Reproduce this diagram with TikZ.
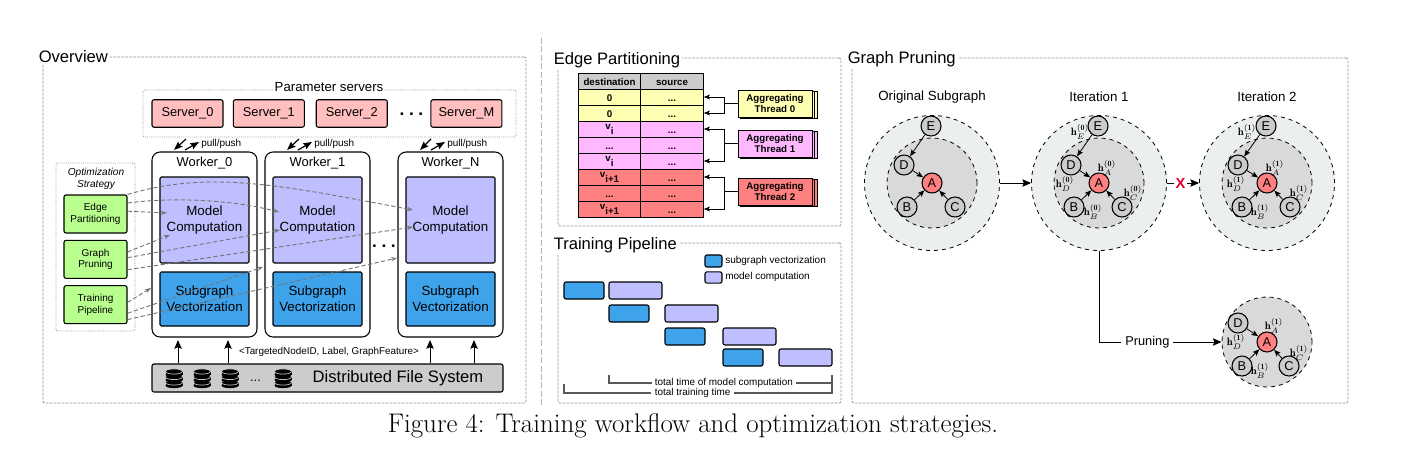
\documentclass[tikz,border=0pt]{standalone}
\usepackage{fontspec}
\setsansfont{Liberation Sans}
\renewcommand{\familydefault}{\sfdefault}
\usepackage{tikz}
\usetikzlibrary{positioning,shadows,arrows.meta}

\definecolor{serverpink}{HTML}{FFBFBF}
\definecolor{modelpurple}{HTML}{BFBFFF}
\definecolor{vectorblue}{HTML}{3FA3EC}
\definecolor{strategygreen}{HTML}{B8FF8E}
\definecolor{fsgray}{HTML}{CCCCCC}
\definecolor{threadyellow}{HTML}{FFFFB3}
\definecolor{threadpink}{HTML}{FFB8FF}
\definecolor{threadred}{HTML}{FF8080}
\definecolor{outergray}{HTML}{ECEFF0}
\definecolor{innergray}{HTML}{D9D9D9}
\definecolor{pruneread}{HTML}{E6002D}
\definecolor{framegray}{HTML}{909090}
\definecolor{dividergray}{HTML}{B4B4B4}
\definecolor{strategygray}{HTML}{767676}

\tikzset{
  paneframe/.style={draw=framegray, dash pattern=on 2pt off 1pt, line width=.6pt, rounded corners=1.5pt, inner sep=0pt},
  panetitle/.style={fill=white, anchor=base west, inner sep=1.5pt, font=\fontsize{12.45}{14}\selectfont},
  dotframe/.style={draw=framegray, densely dotted, line width=.6pt, rounded corners=1.5pt, inner sep=0pt},
  serverbox/.style={draw, fill=serverpink, line width=.8pt, rounded corners=1.5pt, minimum width=53.25pt, minimum height=20.6pt, inner sep=0pt, node distance=61pt, font=\fontsize{9.6}{11}\selectfont},
  workerbox/.style={draw, line width=.8pt, rounded corners=6pt, minimum width=78.75pt, minimum height=138.75pt, inner sep=0pt, node distance=84.75pt},
  workername/.style={inner sep=0pt, node distance=84.75pt, font=\fontsize{9.7}{11}\selectfont},
  modelbox/.style={draw, fill=modelpurple, line width=.8pt, rounded corners=1pt, minimum width=66.75pt, minimum height=64.5pt, inner sep=0pt, align=center, font=\fontsize{10}{12}\selectfont},
  vectorbox/.style={draw, fill=vectorblue, line width=.8pt, rounded corners=1pt, minimum width=66.75pt, minimum height=40.5pt, inner sep=0pt, align=center, font=\fontsize{10}{12}\selectfont},
  strategybox/.style={draw, fill=strategygreen, line width=.8pt, rounded corners=1.5pt, minimum width=47.25pt, minimum height=28.5pt, inner sep=0pt, align=center, node distance=34pt, font=\fontsize{7.5}{8.8}\selectfont},
  smalltext/.style={inner sep=0pt, font=\fontsize{7.5}{8.8}\selectfont},
  rowdots/.style={inner sep=0pt, font=\bfseries\fontsize{13}{14}\selectfont},
  strategyarrow/.style={-{Stealth[length=4.5pt,width=3.2pt]}, strategygray, dash pattern=on 3.2pt off 1.8pt, line width=.7pt},
  pullarrow/.style={-{Stealth[length=6.5pt,width=5pt,inset=1pt]}, line width=.9pt},
  tablecell/.style={draw, line width=.7pt, minimum width=47pt, minimum height=12pt, inner sep=0pt, text height=7pt, text depth=1pt, node distance=12pt, font=\bfseries\fontsize{7.3}{8}\selectfont},
  threadbox/.style={draw, line width=.6pt, minimum width=55.5pt, minimum height=20.25pt, inner sep=0pt, align=center, double copy shadow={shadow xshift=1.9pt, shadow yshift=-.7pt}, font=\bfseries\fontsize{7.3}{8.8}\selectfont},
  barblue/.style={draw, fill=vectorblue, line width=.8pt, rounded corners=1.5pt, minimum width=30pt, minimum height=12.75pt, inner sep=0pt},
  barpurple/.style={draw, fill=modelpurple, line width=.8pt, rounded corners=1.5pt, minimum width=39.75pt, minimum height=12.75pt, inner sep=0pt},
  spanline/.style={draw=black!65, line width=.9pt},
  outercircle/.style={circle, draw, dashed, fill=outergray, line width=.6pt, minimum size=101.25pt, inner sep=0pt},
  innercircle/.style={circle, draw, dashed, fill=innergray, line width=.6pt, minimum size=67.5pt, inner sep=0pt},
  vertex/.style={circle, draw, fill=fsgray, line width=.8pt, minimum size=15pt, inner sep=0pt, font=\fontsize{9.6}{11}\selectfont},
  rootvertex/.style={vertex, fill=threadred},
  hlabel/.style={inner sep=0pt, font=\fontsize{8}{9}\selectfont},
  subtitle/.style={inner sep=0pt, font=\fontsize{10}{12}\selectfont},
  flowarrow/.style={-{Stealth[length=6.5pt,width=5.5pt,inset=1pt]}, line width=.75pt},
  edgearrow/.style={-{Stealth[length=5pt,width=4pt,inset=1pt]}, line width=.6pt},
  threadarrow/.style={-{Stealth[length=4.5pt,width=3.5pt,inset=.8pt]}, line width=.75pt}
}

\newcommand{\dblayer}[2]{%
  \fill[black] (#1-8.5,#2) rectangle (#1+8.5,#2-3);
  \fill[black] (#1,#2) ellipse [x radius=8.5, y radius=2.6];
  \filldraw[fill=black, draw=fsgray, line width=.5pt] (#1,#2-3) ellipse [x radius=8.5, y radius=2.6];
}
\newcommand{\dbicon}[1]{\dblayer{#1}{385.5}\dblayer{#1}{380}\dblayer{#1}{374.5}}

\begin{document}
\begin{tikzpicture}[x=.75pt,y=-.75pt,>=stealth]
  \useasboundingbox (0,0) rectangle (1403,450);

  % Overview
  \node (overviewFrame) [paneframe, minimum width=362.25pt, minimum height=259.5pt] at (284.5,230) {};
  \node (overviewTitle) [panetitle] at (36.5,62.5) {Overview};
  \node (paramFrame) [dotframe, minimum width=279.75pt, minimum height=35.25pt] at (329.5,113.5) {};
  \node (paramTitle) [fill=white, inner sep=1.5pt, font=\fontsize{9.9}{11}\selectfont] at (329,87) {Parameter servers};

  \node (server0) [serverbox] at (187.5,113.5) {Server\_0};
  \node (server1) [serverbox, right of=server0] {Server\_1};
  \node (server2) [serverbox, right of=server1, xshift=1.2pt] {Server\_2};
  \node (serverDots) [rowdots] at (411.5,114) {.\kern3.4pt.\kern3.4pt.};
  \node (serverM) [serverbox, right of=server2, xshift=25pt] {Server\_M};

  \node (worker0) [workerbox] at (204.5,244.5) {};
  \node (worker1) [workerbox, right of=worker0] {};
  \node (workerN) [workerbox, right of=worker1, xshift=15pt] {};
  \node (workerName0) [workername] at (204.5,163) {Worker\_0};
  \node (workerName1) [workername, right of=workerName0] {Worker\_1};
  \node (workerNameN) [workername, right of=workerName1, xshift=15pt] {Worker\_N};
  \node (model0) [modelbox] at (204.5,220) {Model\\Computation};
  \node (model1) [modelbox] at (317.5,220) {Model\\Computation};
  \node (modelN) [modelbox] at (450.5,220) {Model\\Computation};
  \node (vector0) [vectorbox] at (204.5,299) {Subgraph\\Vectorization};
  \node (vector1) [vectorbox] at (317.5,299) {Subgraph\\Vectorization};
  \node (vectorN) [vectorbox] at (450.5,299) {Subgraph\\Vectorization};
  \node (workerDots) [rowdots] at (384,246) {.\kern3.4pt.\kern3.4pt.};

  % pull/push arrows
  \coordinate (pullTop0) at (186,139); \coordinate (pullEnd0) at (174,150);
  \coordinate (pushEnd0) at (185,150); \coordinate (pushTop0) at (199,142);
  \coordinate (pullTop1) at (299,139); \coordinate (pullEnd1) at (287,150);
  \coordinate (pushEnd1) at (298,150); \coordinate (pushTop1) at (312,142);
  \coordinate (pullTopN) at (431,139); \coordinate (pullEndN) at (420,150);
  \coordinate (pushEndN) at (431,150); \coordinate (pushTopN) at (445,142);
  \draw[pullarrow] (pullTop0) -- (pullEnd0);
  \draw[pullarrow] (pushEnd0) -- (pushTop0);
  \draw[pullarrow] (pullTop1) -- (pullEnd1);
  \draw[pullarrow] (pushEnd1) -- (pushTop1);
  \draw[pullarrow] (pullTopN) -- (pullEndN);
  \draw[pullarrow] (pushEndN) -- (pushTopN);
  \node (pushText0) [smalltext, anchor=west] at (201,144) {pull/push};
  \node (pushText1) [smalltext, anchor=west] at (314,144) {pull/push};
  \node (pushTextN) [smalltext, anchor=west] at (447,144) {pull/push};

  % optimization strategy
  \node (strategyFrame) [dotframe, minimum width=59.25pt, minimum height=126pt] at (95.5,247) {};
  \node (strategyTitle) [smalltext, align=center, font=\itshape\fontsize{7.6}{9}\selectfont] at (96,178.5) {Optimization\\Strategy};
  \node (edgeBox) [strategybox] at (95.5,214) {Edge\\Partitioning};
  \node (pruneBox) [strategybox, below of=edgeBox] {Graph\\Pruning};
  \node (trainBox) [strategybox, below of=pruneBox] {Training\\Pipeline};

  \coordinate (edgeEnd0) at (167,213);
  \coordinate (edgeEnd1) at (279,212);
  \coordinate (edgeEndN) at (413,210);
  \coordinate (pruneEnd0) at (170,235);
  \coordinate (pruneEnd1) at (280,230);
  \coordinate (pruneEndN) at (413,227);
  \coordinate (trainEnd0) at (151,288);
  \coordinate (trainEnd1) at (263,267);
  \coordinate (trainEndN) at (397,258);
  \draw[strategyarrow] (edgeBox.5) -- (edgeEnd0);
  \draw[strategyarrow] (edgeBox.19) .. controls (165,198) and (225,198) .. (edgeEnd1);
  \draw[strategyarrow] (edgeBox.north east) .. controls (210,170) and (280,185) .. (edgeEndN);
  \draw[strategyarrow] (pruneBox.13) -- (pruneEnd0);
  \draw[strategyarrow] (pruneBox.3) -- (pruneEnd1);
  \draw[strategyarrow] (pruneBox.-18) -- (pruneEndN);
  \draw[strategyarrow] (trainBox.4) -- (trainEnd0);
  \draw[strategyarrow] (trainBox.-15) -- (trainEnd1);
  \draw[strategyarrow] (trainBox.-25) -- (trainEndN);

  % file system
  \node (fileSystem) [draw, fill=fsgray, line width=.8pt, rounded corners=1.5pt, minimum width=263.25pt, minimum height=21pt, inner sep=0pt] at (327.5,378) {};
  \node (fileSystemText) [inner sep=0pt, font=\fontsize{12.45}{14}\selectfont] at (398,378) {Distributed File System};
  \node (fileDots) [inner sep=0pt, font=\fontsize{9.6}{11}\selectfont] at (255.5,381) {...};
  \dbicon{174}
  \dbicon{202}
  \dbicon{230}
  \dbicon{283}
  \coordinate (readTip0) at (178,340);
  \coordinate (readTip1) at (228,340);
  \coordinate (readTip2) at (430,340);
  \coordinate (readTip3) at (474,340);
  \draw[flowarrow] (readTip0 |- fileSystem.north) -- (readTip0);
  \draw[flowarrow] (readTip1 |- fileSystem.north) -- (readTip1);
  \draw[flowarrow] (readTip2 |- fileSystem.north) -- (readTip2);
  \draw[flowarrow] (readTip3 |- fileSystem.north) -- (readTip3);
  \node (recordText) [smalltext, font=\fontsize{7.4}{8.8}\selectfont] at (329,352) {<TargetedNodeID, Label, GraphFeature>};

  % edge partitioning
  \node (edgeFrame) [paneframe, minimum width=212.25pt, minimum height=126pt] at (699.5,142) {};
  \node (edgeTitle) [panetitle] at (551.5,64) {Edge Partitioning};

  \node (destHead) [tablecell, fill=fsgray] at (609.5,81) {destination};
  \node (sourceHead) [tablecell, fill=fsgray, right of=destHead, xshift=34.875pt] {source};
  \node (dest0) [tablecell, fill=threadyellow, below of=destHead] {0};
  \node (source0) [tablecell, fill=threadyellow, below of=sourceHead] {...};
  \node (dest1) [tablecell, fill=threadyellow, below of=dest0] {0};
  \node (source1) [tablecell, fill=threadyellow, below of=source0] {...};
  \node (dest2) [tablecell, fill=threadpink, below of=dest1] {\raisebox{2.5pt}{v}\raisebox{-1pt}{i}};
  \node (source2) [tablecell, fill=threadpink, below of=source1] {...};
  \node (dest3) [tablecell, fill=threadpink, below of=dest2] {...};
  \node (source3) [tablecell, fill=threadpink, below of=source2] {...};
  \node (dest4) [tablecell, fill=threadpink, below of=dest3] {\raisebox{2.5pt}{v}\raisebox{-1pt}{i}};
  \node (source4) [tablecell, fill=threadpink, below of=source3] {...};
  \node (dest5) [tablecell, fill=threadred, below of=dest4] {\raisebox{2.5pt}{v}\raisebox{-1pt}{i+1}};
  \node (source5) [tablecell, fill=threadred, below of=source4] {...};
  \node (dest6) [tablecell, fill=threadred, below of=dest5] {...};
  \node (source6) [tablecell, fill=threadred, below of=source5] {...};
  \node (dest7) [tablecell, fill=threadred, below of=dest6] {\raisebox{2.5pt}{v}\raisebox{-1pt}{i+1}};
  \node (source7) [tablecell, fill=threadred, below of=source6] {...};

  \node (thread0) [threadbox, fill=threadyellow] at (775,103.5) {Aggregating\\Thread 0};
  \node (thread1) [threadbox, fill=threadpink] at (775,143.5) {Aggregating\\Thread 1};
  \node (thread2) [threadbox, fill=threadred] at (775,191.5) {Aggregating\\Thread 2};
  \draw[threadarrow] (thread0.west) -- ++(-13,0) |- (source0.east);
  \draw[threadarrow] (thread0.west) -- ++(-13,0) |- (source1.east);
  \draw[threadarrow] (thread1.west) -- ++(-13,0) |- (source2.east);
  \draw[threadarrow] (thread1.west) -- ++(-13,0) |- (source4.east);
  \draw[threadarrow] (thread2.west) -- ++(-13,0) |- (source5.east);
  \draw[threadarrow] (thread2.west) -- ++(-13,0) |- (source7.east);

  % training pipeline
  \node (pipelineFrame) [paneframe, minimum width=212.25pt, minimum height=120pt] at (699.5,323) {};
  \node (pipelineTitle) [panetitle] at (551.5,249.5) {Training Pipeline};
  \node (legendBlue) [barblue, minimum width=12.75pt, minimum height=9pt] at (713.5,261) {};
  \node (legendPurple) [barpurple, minimum width=12.75pt, minimum height=8.5pt] at (713.5,277.5) {};
  \node (legendBlueText) [smalltext, anchor=west] at (725,261) {subgraph vectorization};
  \node (legendPurpleText) [smalltext, anchor=west] at (725,276.5) {model computation};

  \node (blueBar0) [barblue] at (584,290.5) {};
  \node (purpleBar0) [barpurple] at (635.5,290.5) {};
  \node (blueBar1) [barblue] at (629,313.5) {};
  \node (purpleBar1) [barpurple] at (691.5,313.5) {};
  \node (blueBar2) [barblue] at (685,336.5) {};
  \node (purpleBar2) [barpurple] at (749.5,336.5) {};
  \node (blueBar3) [barblue] at (743,357.5) {};
  \node (purpleBar3) [barpurple] at (805.5,357.5) {};

  \coordinate (modelSpanStart) at (609,375);
  \coordinate (totalSpanStart) at (564,384);
  \draw[spanline] (modelSpanStart) -- ++(0,8) -- node (modelSpanText) [pos=.515, fill=white, text=black, inner xsep=2.5pt, inner ysep=0pt, font=\fontsize{7.45}{8.8}\selectfont] {total time of model computation} ++(223,0) -- ++(0,-8);
  \draw[spanline] (totalSpanStart) -- ++(0,9) -- node (totalSpanText) [pos=.48, fill=white, text=black, inner xsep=2.5pt, inner ysep=0pt, font=\fontsize{7.45}{8.8}\selectfont] {total training time} ++(268,0) -- ++(0,-9);

  % graph pruning
  \node (pruningFrame) [paneframe, minimum width=372pt, minimum height=258.75pt] at (1100,230.5) {};
  \node (pruningTitle) [panetitle] at (845.5,63.5) {Graph Pruning};

  \node (origTitle) [subtitle] at (932,97) {Original Subgraph};
  \node (iterOneTitle) [subtitle] at (1099,97) {Iteration 1};
  \node (iterTwoTitle) [subtitle] at (1267,97) {Iteration 2};

  % original subgraph
  \node (origOuter) [outercircle] at (932,183) {};
  \node (origInner) [innercircle] at (932,183) {};
  \node (origA) [rootvertex] at (932,183) {A};
  \node (origB) [vertex] at (907,207) {B};
  \node (origC) [vertex] at (955,207) {C};
  \node (origD) [vertex] at (904,165) {D};
  \node (origE) [vertex] at (931,126) {E};
  \draw[edgearrow] (origE) -- (origD);
  \draw[edgearrow] (origD) -- (origA);
  \draw[edgearrow] (origB) -- (origA);
  \draw[edgearrow] (origC) -- (origA);

  % iteration 1
  \node (iterOneOuter) [outercircle] at (1099,183) {};
  \node (iterOneInner) [innercircle] at (1099,183) {};
  \node (iterOneA) [rootvertex] at (1099,183) {A};
  \node (iterOneB) [vertex] at (1074,207) {B};
  \node (iterOneC) [vertex] at (1122,207) {C};
  \node (iterOneD) [vertex] at (1071,165) {D};
  \node (iterOneE) [vertex] at (1098,126) {E};
  \draw[edgearrow] (iterOneE) -- (iterOneD);
  \draw[edgearrow] (iterOneD) -- (iterOneA);
  \draw[edgearrow] (iterOneB) -- (iterOneA);
  \draw[edgearrow] (iterOneC) -- (iterOneA);
  \node (iterOneLabelA) [hlabel] at (1107,168) {$\mathbf{h}_{A}^{(\mathbf{0})}$};
  \node (iterOneLabelB) [hlabel] at (1093,212) {$\mathbf{h}_{B}^{(\mathbf{0})}$};
  \node (iterOneLabelC) [hlabel] at (1133,193) {$\mathbf{h}_{C}^{(\mathbf{0})}$};
  \node (iterOneLabelD) [hlabel] at (1065,184) {$\mathbf{h}_{D}^{(\mathbf{0})}$};
  \node (iterOneLabelE) [hlabel] at (1080,132) {$\mathbf{h}_{E}^{(\mathbf{0})}$};

  % iteration 2
  \node (iterTwoOuter) [outercircle] at (1267,183) {};
  \node (iterTwoInner) [innercircle] at (1267,183) {};
  \node (iterTwoA) [rootvertex] at (1267,183) {A};
  \node (iterTwoB) [vertex] at (1242,207) {B};
  \node (iterTwoC) [vertex] at (1290,207) {C};
  \node (iterTwoD) [vertex] at (1238,165) {D};
  \node (iterTwoE) [vertex] at (1266,126) {E};
  \draw[edgearrow] (iterTwoE) -- (iterTwoD);
  \draw[edgearrow] (iterTwoD) -- (iterTwoA);
  \draw[edgearrow] (iterTwoB) -- (iterTwoA);
  \draw[edgearrow] (iterTwoC) -- (iterTwoA);
  \node (iterTwoLabelA) [hlabel] at (1275,168) {$\mathbf{h}_{A}^{(\mathbf{1})}$};
  \node (iterTwoLabelB) [hlabel] at (1260,212) {$\mathbf{h}_{B}^{(\mathbf{1})}$};
  \node (iterTwoLabelC) [hlabel] at (1299,193) {$\mathbf{h}_{C}^{(\mathbf{1})}$};
  \node (iterTwoLabelD) [hlabel] at (1236,184) {$\mathbf{h}_{D}^{(\mathbf{1})}$};
  \node (iterTwoLabelE) [hlabel] at (1247,132) {$\mathbf{h}_{E}^{(\mathbf{1})}$};

  % pruned subgraph
  \node (prunedInner) [innercircle] at (1267,342) {};
  \node (prunedA) [rootvertex] at (1267,342) {A};
  \node (prunedB) [vertex] at (1242,366) {B};
  \node (prunedC) [vertex] at (1289,366) {C};
  \node (prunedD) [vertex] at (1238,323) {D};
  \draw[edgearrow] (prunedD) -- (prunedA);
  \draw[edgearrow] (prunedB) -- (prunedA);
  \draw[edgearrow] (prunedC) -- (prunedA);
  \node (prunedLabelA) [hlabel] at (1274,326) {$\mathbf{h}_{A}^{(\mathbf{1})}$};
  \node (prunedLabelB) [hlabel] at (1260,371) {$\mathbf{h}_{B}^{(\mathbf{1})}$};
  \node (prunedLabelC) [hlabel] at (1299,353) {$\mathbf{h}_{C}^{(\mathbf{1})}$};
  \node (prunedLabelD) [hlabel] at (1236,342) {$\mathbf{h}_{D}^{(\mathbf{1})}$};

  \draw[flowarrow] (origOuter.east) -- (iterOneOuter.west);
  \draw[flowarrow] (iterOneOuter.east) -- node (pruneMark) [pos=.42, fill=white, text=pruneread, inner xsep=1.5pt, inner ysep=0pt, font=\bfseries\fontsize{11}{12}\selectfont] {X} (iterTwoOuter.west);
  \draw[flowarrow] (iterOneOuter.south) |- node (pruneText) [pos=.697, fill=white, inner xsep=3pt, inner ysep=1pt, font=\fontsize{9.6}{11}\selectfont] {Pruning} (prunedInner.west);

  % divider and caption
  \draw[dividergray, dash pattern=on 4.5pt off 1.8pt, line width=1pt] (541.5,38) -- (541.5,405);
  \node (figureCaption) [inner sep=0pt, font=\rmfamily\fontsize{20.2}{24}\selectfont] at (693,426) {Figure 4: Training workflow and optimization strategies.};
\end{tikzpicture}
\end{document}
